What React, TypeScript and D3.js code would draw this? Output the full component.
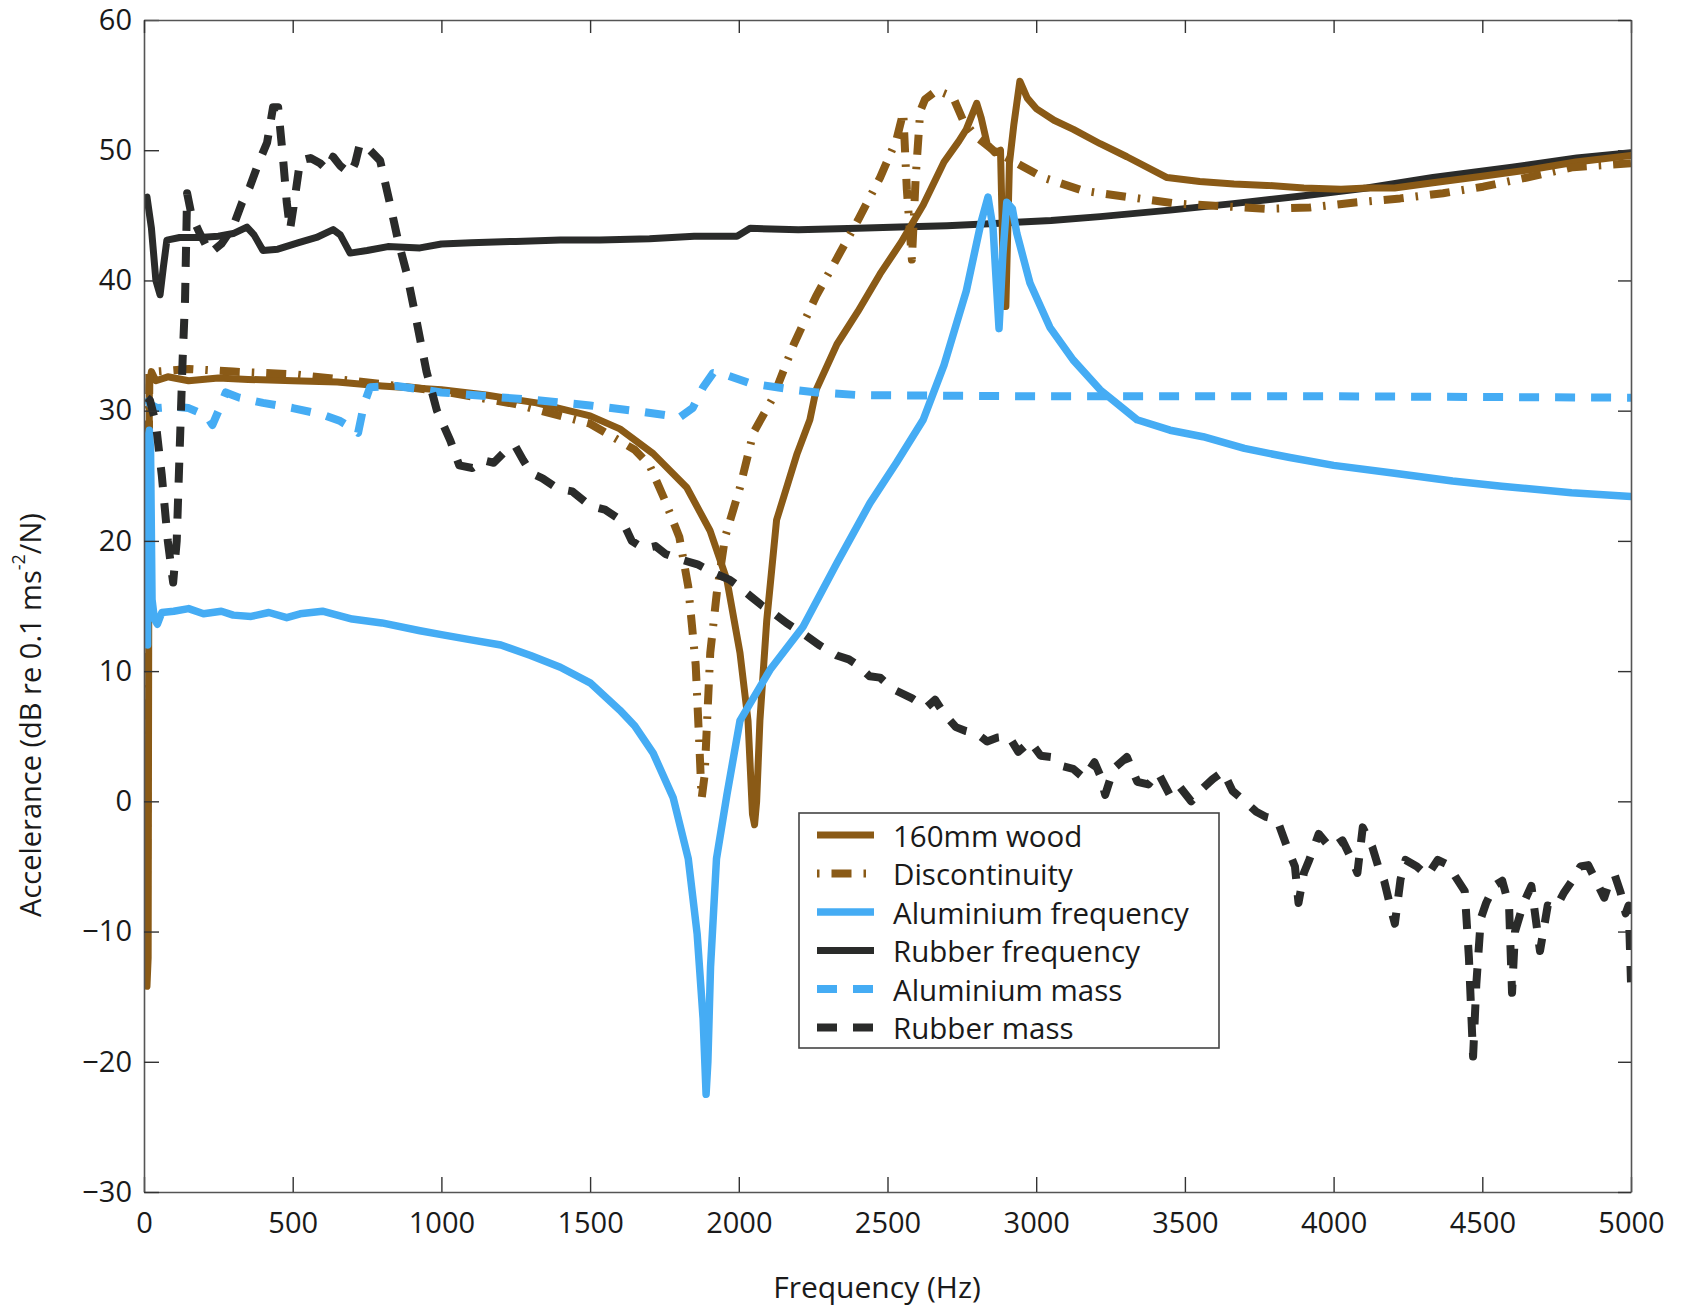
import React, { useRef, useEffect } from 'react';
import * as d3 from 'd3';

// [frequency Hz, accelerance dB] pairs
const wood160 = [
  [10, -14.2], [14, -12], [16, 15], [18, 32], [25, 33], [40, 32.3], [80, 32.6], [150, 32.3], [250, 32.5],
  [350, 32.4], [500, 32.3], [650, 32.2], [800, 31.9], [1000, 31.6], [1150, 31.2], [1320, 30.6], [1500, 29.6],
  [1600, 28.6], [1712, 26.7], [1825, 24.1], [1903, 20.8], [1960, 17], [2004, 11.4], [2031, 6.2], [2046, -1],
  [2053, -1.8], [2060, 0], [2071, 6.2], [2094, 13.9], [2127, 21.6], [2196, 26.7], [2239, 29.3], [2260, 31.6],
  [2330, 35.1], [2400, 37.6], [2475, 40.5], [2545, 42.9], [2620, 45.8], [2690, 49.1], [2740, 50.7], [2765, 51.6],
  [2800, 53.6], [2815, 52.5], [2835, 50.5], [2860, 49.8], [2880, 50], [2892, 38], [2898, 38], [2910, 49],
  [2925, 52], [2945, 55.3], [2970, 54], [3000, 53.2], [3060, 52.3], [3125, 51.6], [3215, 50.5], [3305, 49.5],
  [3440, 47.9], [3550, 47.6], [3665, 47.4], [3776, 47.3], [3900, 47.1], [4025, 47.0], [4112, 47.1], [4205, 47.1],
  [4334, 47.5], [4500, 48], [4660, 48.5], [4815, 49.1], [5000, 49.6]
];

const discontinuity = [
  [10, -8], [14, 20], [18, 33], [40, 33], [150, 33.2], [300, 33], [500, 32.8], [700, 32.3], [1000, 31.5],
  [1250, 30.5], [1500, 29.0], [1650, 27], [1700, 25.8], [1750, 23.2], [1800, 20.3], [1830, 16.5], [1855, 10.5],
  [1868, 4], [1875, 0.2], [1885, 2], [1904, 11.4], [1926, 16], [1954, 20.3], [2004, 24.1], [2049, 28.3],
  [2115, 31], [2185, 35.1], [2260, 38.8], [2330, 41.7], [2400, 44.6], [2475, 47.9], [2530, 50.8], [2553, 52.9],
  [2565, 47], [2582, 41.6], [2595, 48], [2610, 53], [2626, 53.9], [2666, 54.6], [2720, 54.1], [2754, 52.3],
  [2800, 51], [2855, 50], [2935, 49], [3023, 47.9], [3157, 46.9], [3215, 46.7], [3473, 45.9], [3776, 45.5],
  [3920, 45.6], [4079, 46], [4224, 46.3], [4368, 46.7], [4503, 47.2], [4650, 47.9], [4805, 48.7], [5000, 49]
];

const aluminiumFrequency = [
  [12, 12], [14, 28], [18, 28.5], [22, 27], [27, 15.5], [35, 14], [45, 13.6], [60, 14.5], [100, 14.6],
  [150, 14.8], [200, 14.4], [260, 14.6], [300, 14.3], [360, 14.2], [420, 14.5], [480, 14.1], [525, 14.4],
  [600, 14.6], [650, 14.3], [700, 14], [800, 13.7], [928, 13.1], [1000, 12.8], [1100, 12.4], [1200, 12],
  [1300, 11.2], [1400, 10.3], [1500, 9.1], [1600, 7], [1650, 5.8], [1712, 3.7], [1779, 0.3], [1830, -4.4],
  [1860, -10.2], [1880, -16.7], [1890, -22.5], [1896, -20], [1905, -12.7], [1925, -4.4], [1960, 0.5],
  [2004, 6.2], [2105, 10.1], [2216, 13.4], [2330, 18.3], [2441, 22.9], [2530, 26], [2620, 29.3], [2690, 33.5],
  [2765, 39.2], [2815, 44.5], [2838, 46.4], [2855, 44], [2875, 36.3], [2888, 42], [2901, 46], [2920, 45.5],
  [2935, 43.6], [2979, 39.8], [3046, 36.4], [3124, 33.9], [3215, 31.6], [3339, 29.3], [3450, 28.5],
  [3561, 28], [3700, 27.1], [3853, 26.4], [4000, 25.8], [4205, 25.2], [4400, 24.6], [4565, 24.2],
  [4800, 23.7], [5000, 23.4]
];

const rubberFrequency = [
  [10, 46.4], [25, 44], [40, 40], [54, 38.9], [65, 41], [77, 43.1], [120, 43.3], [188, 43.3], [250, 43.4],
  [300, 43.6], [346, 44.1], [370, 43.5], [400, 42.3], [450, 42.4], [520, 42.9], [580, 43.3], [636, 43.9],
  [660, 43.5], [693, 42.1], [750, 42.3], [820, 42.6], [928, 42.5], [1000, 42.8], [1100, 42.9], [1250, 43],
  [1400, 43.1], [1533, 43.1], [1700, 43.2], [1850, 43.4], [1994, 43.4], [2038, 44], [2200, 43.9], [2400, 44.0],
  [2542, 44.1], [2700, 44.2], [2878, 44.4], [3050, 44.6], [3215, 44.9], [3450, 45.4], [3662, 45.9], [3900, 46.5],
  [4112, 47.1], [4334, 47.9], [4600, 48.7], [4818, 49.4], [5000, 49.8]
];

const aluminiumMass = [
  [10, 31], [20, 30.5], [44, 30.2], [100, 30.3], [150, 30.2], [211, 29.6], [230, 28.9], [260, 30.5],
  [275, 31.4], [320, 31], [400, 30.6], [500, 30.2], [600, 29.7], [660, 29.2], [703, 28.6], [720, 28.3],
  [740, 30.5], [760, 31.8], [850, 31.9], [1000, 31.4], [1320, 30.8], [1500, 30.4], [1680, 29.9], [1802, 29.5],
  [1845, 30.2], [1880, 31.8], [1914, 32.9], [1950, 32.8], [2038, 32.1], [2185, 31.6], [2263, 31.4],
  [2400, 31.2], [3000, 31.1], [4000, 31.1], [5000, 31]
];

const rubberMass = [
  [10, 31], [20, 30.8], [40, 29], [60, 25], [80, 20], [98, 16.8], [110, 20], [121, 27.7], [130, 34],
  [138, 38.5], [145, 46.7], [160, 45], [188, 43.6], [222, 42.1], [260, 42.8], [299, 44.1], [330, 46],
  [356, 47.2], [385, 49], [414, 50.6], [434, 53.3], [451, 53.3], [467, 49.5], [480, 46], [491, 43.9],
  [505, 46], [525, 49.2], [560, 49.4], [592, 49], [615, 48.5], [636, 49.5], [660, 48.8], [693, 48.2],
  [710, 49], [726, 50.5], [760, 50], [794, 49.2], [827, 45.9], [855, 43], [884, 40.5], [918, 36.7],
  [950, 33], [985, 30], [1030, 27.7], [1060, 25.8], [1104, 25.6], [1140, 26.2], [1176, 26], [1220, 27],
  [1248, 27.3], [1275, 26.2], [1302, 25.2], [1340, 24.8], [1392, 24], [1440, 23.8], [1500, 22.7],
  [1550, 22.4], [1609, 21.5], [1640, 20], [1681, 19.4], [1720, 19.6], [1753, 19], [1800, 18.6],
  [1861, 18.2], [1910, 17.6], [1970, 17], [2000, 16.5], [2042, 15.7], [2080, 15], [2114, 14.5],
  [2160, 13.7], [2222, 12.8], [2270, 12], [2330, 11.2], [2370, 10.9], [2403, 10.4], [2440, 9.6],
  [2475, 9.5], [2520, 8.6], [2583, 7.9], [2630, 7.2], [2660, 7.8], [2691, 6.7], [2730, 5.7], [2763, 5.4],
  [2800, 5.2], [2835, 4.6], [2870, 4.9], [2908, 5], [2940, 3.8], [2980, 4.6], [3015, 3.5], [3052, 3.4],
  [3090, 2.7], [3124, 2.5], [3160, 1.8], [3196, 3], [3215, 2.0], [3232, 0.5], [3260, 2.5], [3305, 3.4],
  [3340, 1.5], [3377, 1.3], [3410, 2.2], [3449, 0.5], [3480, 1.2], [3521, 0], [3560, 1.0], [3593, 1.7],
  [3629, 2.3], [3660, 0.8], [3701, 0], [3740, -0.8], [3773, -1.2], [3810, -1.4], [3845, -3.6], [3870, -5],
  [3882, -7.8], [3900, -5.5], [3918, -4.5], [3950, -2.5], [3990, -3.6], [4030, -3], [4062, -4.5],
  [4080, -5.5], [4098, -2], [4130, -3.5], [4150, -5], [4170, -6.1], [4190, -8], [4206, -9.4], [4225, -6],
  [4242, -4.5], [4280, -5], [4315, -5.7], [4350, -4.5], [4387, -4.9], [4410, -5.8], [4441, -6.9],
  [4455, -12], [4469, -19.6], [4480, -14], [4495, -9], [4513, -7.8], [4540, -6.5], [4567, -6.1],
  [4590, -8], [4600, -14.7], [4610, -10], [4639, -7.8], [4665, -6.5], [4694, -11.5], [4720, -8],
  [4747, -8.2], [4775, -7], [4802, -6.1], [4830, -5], [4856, -4.9], [4880, -6], [4910, -7.4], [4930, -6],
  [4946, -5.7], [4965, -7], [4982, -8.6], [4992, -8], [5000, -13.9]
];

const xTicks = [0, 500, 1000, 1500, 2000, 2500, 3000, 3500, 4000, 4500, 5000];
const yTicks = [-30, -20, -10, 0, 10, 20, 30, 40, 50, 60];

const BROWN = '#8a5a16';
const BLUE = '#45acf4';
const BLACK = '#2a2b2a';
const FONT = '"Open Sans", "Noto Sans", sans-serif';

// drawing order matters a bit where curves overlap
const seriesList = [
  { name: 'Rubber frequency', data: rubberFrequency, color: BLACK, width: 7, dash: null, legend: 3 },
  { name: '160mm wood', data: wood160, color: BROWN, width: 7, dash: null, legend: 0 },
  { name: 'Discontinuity', data: discontinuity, color: BROWN, width: 8, dash: '20,12,2.5,12', legend: 1 },
  { name: 'Aluminium frequency', data: aluminiumFrequency, color: BLUE, width: 7.5, dash: null, legend: 2 },
  { name: 'Aluminium mass', data: aluminiumMass, color: BLUE, width: 8, dash: '20,16', legend: 4 },
  { name: 'Rubber mass', data: rubberMass, color: BLACK, width: 8, dash: '20,16', legend: 5 },
];

const Chart = () => {
  const ref = useRef(null);
  const width = 1682, height = 1306;
  const margin = { left: 144, top: 20, right: 51, bottom: 114 };

  useEffect(() => {
    const innerWidth = width - margin.left - margin.right;
    const innerHeight = height - margin.top - margin.bottom;

    const svgRef = d3.select(ref.current);
    svgRef.selectAll('*').remove();

    const xScale = d3.scaleLinear().domain([0, 5000]).range([0, innerWidth]);
    const yScale = d3.scaleLinear().domain([-30, 60]).range([innerHeight, 0]);

    const svg = svgRef.attr('width', width).attr('height', height)
      .append('g')
      .attr('transform', `translate(${margin.left}, ${margin.top})`);

    svg.append('clipPath').attr('id', 'plot-clip')
      .append('rect')
      .attr('x', 0).attr('y', 0)
      .attr('width', innerWidth).attr('height', innerHeight);

    // curves
    const line = d3.line().x(d => xScale(d[0])).y(d => yScale(d[1]));
    seriesList.forEach(s => {
      const p = svg.append('path')
        .attr('d', line(s.data))
        .attr('fill', 'none')
        .attr('stroke', s.color)
        .attr('stroke-width', s.width)
        .attr('stroke-linejoin', 'round')
        .attr('clip-path', 'url(#plot-clip)');
      if (s.dash) p.attr('stroke-dasharray', s.dash).attr('stroke-linecap', 'butt');
      else p.attr('stroke-linecap', 'round');
    });

    // axes, matlab-style box with inward ticks
    const styleAxis = g => {
      g.attr('color', '#555').attr('font-family', FONT).attr('font-size', 29);
      g.select('.domain').attr('stroke-width', 1.6);
      g.selectAll('.tick line').attr('stroke', '#333').attr('stroke-width', 1.4);
      g.selectAll('.tick text').attr('fill', '#1a1a1a');
    };
    const fmt = d3.format('d');

    svg.append('g')
      .attr('transform', `translate(0, ${innerHeight})`)
      .call(d3.axisBottom(xScale).tickValues(xTicks).tickFormat(fmt).tickSizeInner(-15).tickSizeOuter(0).tickPadding(20))
      .call(styleAxis);

    svg.append('g')
      .call(d3.axisLeft(yScale).tickValues(yTicks).tickFormat(fmt).tickSizeInner(-15).tickSizeOuter(0).tickPadding(12))
      .call(styleAxis);

    svg.append('g')
      .call(d3.axisTop(xScale).tickValues(xTicks).tickSizeInner(-13).tickSizeOuter(0).tickFormat(() => ''))
      .call(styleAxis);

    svg.append('g')
      .attr('transform', `translate(${innerWidth}, 0)`)
      .call(d3.axisRight(yScale).tickValues(yTicks).tickSizeInner(-13).tickSizeOuter(0).tickFormat(() => ''))
      .call(styleAxis);

    // axis titles
    svgRef.append('text')
      .attr('x', 877).attr('y', 1286)
      .attr('text-anchor', 'middle')
      .attr('dominant-baseline', 'central')
      .attr('font-family', FONT).attr('font-size', 30)
      .attr('fill', '#1a1a1a')
      .text('Frequency (Hz)');

    const yTitle = svgRef.append('text')
      .attr('transform', 'translate(29, 715) rotate(-90)')
      .attr('text-anchor', 'middle')
      .attr('dominant-baseline', 'central')
      .attr('font-family', FONT).attr('font-size', 29)
      .attr('fill', '#1a1a1a');
    yTitle.append('tspan').text('Accelerance (dB re 0.1 ms');
    yTitle.append('tspan').attr('font-size', 18).attr('dy', -11).text('-2');
    yTitle.append('tspan').attr('dy', 11).text('/N)');

    // legend
    const legend = svgRef.append('g').attr('transform', 'translate(799, 813)');
    legend.append('rect')
      .attr('width', 420).attr('height', 235)
      .attr('fill', 'white').attr('stroke', '#444').attr('stroke-width', 1.6);

    const legendItems = seriesList.slice().sort((a, b) => a.legend - b.legend);
    legendItems.forEach((s, i) => {
      const yy = 22 + i * 38.5;
      const l = legend.append('line')
        .attr('x1', 18).attr('x2', 75)
        .attr('y1', yy).attr('y2', yy)
        .attr('stroke', s.color)
        .attr('stroke-width', s.width);
      if (s.dash) {
        l.attr('stroke-dasharray', s.dash);
        if (s.dash.split(',').length > 2) l.attr('stroke-dashoffset', 32);
      }
      legend.append('text')
        .attr('x', 94).attr('y', yy)
        .attr('dominant-baseline', 'central')
        .attr('font-family', FONT).attr('font-size', 29.5)
        .attr('fill', '#1a1a1a')
        .text(s.name);
    });
  }, []);

  return (
    <svg ref={ref} style={{ position: 'absolute', left: 0, top: 0, background: 'white' }}></svg>
  );
};

export default function App() {
  return <Chart />;
}
